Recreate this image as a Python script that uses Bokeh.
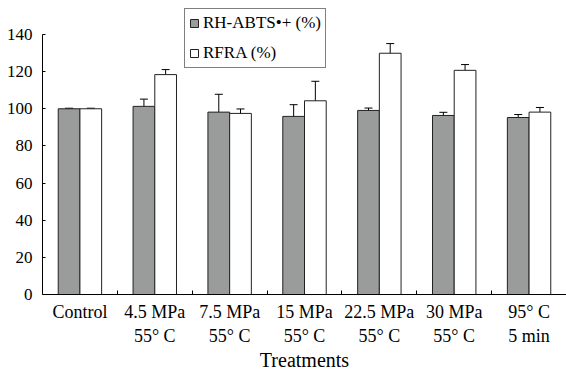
import numpy as np
from bokeh.plotting import figure
from bokeh.models import (ColumnDataSource, Whisker, TeeHead, FixedTicker, Range1d,
                          Legend, LegendItem)
from bokeh.embed import file_html
from bokeh.resources import INLINE

categories = ["Control", "4.5 MPa\n55° C", "7.5 MPa\n55° C", "15 MPa\n55° C",
              "22.5 MPa\n55° C", "30 MPa\n55° C", "95° C\n5 min"]
rh_abts = [100, 101.3, 98.2, 95.9, 99.1, 96.4, 95.3]
rh_abts_err = [0.3, 3.9, 9.6, 6.3, 1.3, 1.7, 1.6]
rfra = [100, 118.4, 97.5, 104.3, 129.9, 120.7, 98.2]
rfra_err = [0.3, 2.7, 2.4, 10.5, 5.2, 3.1, 2.5]
y_ticks = [0, 20, 40, 60, 80, 100, 120, 140]
x_title = "Treatments"

FONT = "Liberation Serif"
n = len(categories)
idx = np.arange(n)
bw = 0.29

p = figure(width=566, height=373, output_backend="svg", toolbar_location=None,
           x_range=Range1d(0, n), y_range=Range1d(0, 158.3))
p.min_border_left = 42
p.min_border_top = 0
p.min_border_bottom = 79
p.min_border_right = 0
p.outline_line_color = None
p.xgrid.visible = False
p.ygrid.visible = False

g_src = ColumnDataSource(dict(x=idx + 0.5 - bw / 2, top=rh_abts,
                              lo=np.array(rh_abts) - np.array(rh_abts_err),
                              hi=np.array(rh_abts) + np.array(rh_abts_err)))
w_src = ColumnDataSource(dict(x=idx + 0.5 + bw / 2, top=rfra,
                              lo=np.array(rfra) - np.array(rfra_err),
                              hi=np.array(rfra) + np.array(rfra_err)))

r1 = p.vbar(x="x", top="top", width=bw, bottom=0, source=g_src,
            fill_color="#9a9b9b", line_color="#222222", line_width=1)
r2 = p.vbar(x="x", top="top", width=bw, bottom=0, source=w_src,
            fill_color="white", line_color="#222222", line_width=1)

for src in (g_src, w_src):
    wk = Whisker(base="x", lower="lo", upper="hi", source=src,
                 line_color="black", line_width=1,
                 upper_head=TeeHead(size=8, line_color="black", line_width=1),
                 lower_head=TeeHead(size=8, line_color="black", line_width=1))
    p.add_layout(wk)

# x axis: labels at centers, ticks (minor) at category boundaries
centers = [float(i) + 0.5 for i in idx]
p.xaxis.ticker = FixedTicker(ticks=centers, minor_ticks=[float(i) for i in range(1, n)])
p.xaxis.major_label_overrides = {c: lab for c, lab in zip(centers, categories)}
p.xaxis.major_tick_in = 0
p.xaxis.major_tick_out = 0
p.xaxis.minor_tick_in = 4
p.xaxis.minor_tick_out = 0
p.xaxis.major_label_standoff = 7
p.xaxis.major_label_text_font_size = "18px"
p.xaxis.axis_label = x_title
p.xaxis.axis_label_standoff = 0
p.xaxis.axis_label_text_font_style = "normal"
p.xaxis.axis_label_text_font_size = "20px"
p.xaxis.axis_label_text_line_height = 1.0

p.yaxis.ticker = FixedTicker(ticks=y_ticks)
p.yaxis.bounds = (0, 140)
p.yaxis.major_tick_in = 3
p.yaxis.major_tick_out = 0
p.yaxis.minor_tick_in = 0
p.yaxis.minor_tick_out = 0
p.yaxis.major_label_standoff = 10
p.yaxis.major_label_text_font_size = "17px"

for ax in (p.xaxis, p.yaxis):
    ax.axis_line_color = "black"
    ax.major_tick_line_color = "black"
    ax.minor_tick_line_color = "black"
    ax.major_label_text_font = FONT
    ax.major_label_text_color = "black"
    ax.axis_label_text_font = FONT
    ax.axis_label_text_color = "black"

legend = Legend(items=[LegendItem(label="RH-ABTS•+ (%)", renderers=[r1]),
                       LegendItem(label="RFRA (%)", renderers=[r2])],
                location=(142, 226))
legend.label_text_font = FONT
legend.label_text_font_size = "17px"
legend.label_text_color = "black"
legend.border_line_color = "black"
legend.border_line_width = 1
legend.glyph_width = 10
legend.glyph_height = 10
legend.label_standoff = 4
legend.spacing = 10
legend.padding = 4
legend.margin = 0
legend.label_height = 20
p.add_layout(legend, "center")

open("out.html", "w").write(file_html(p, INLINE))
